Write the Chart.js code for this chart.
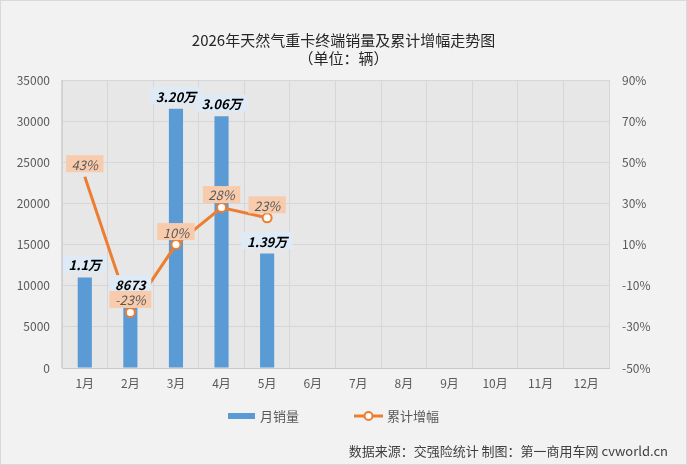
<!DOCTYPE html>
<html>
<head>
<meta charset="utf-8">
<script src="https://cdn.jsdelivr.net/npm/chart.js@4.4.0/dist/chart.umd.min.js"></script>
<style>
html, body { margin: 0; padding: 0; background: #f2f2f2; }
</style>
</head>
<body>
<canvas id="myChart" width="687" height="465"></canvas>
<script>
const months = ['1月', '2月', '3月', '4月', '5月', '6月', '7月', '8月', '9月', '10月', '11月', '12月'];
const sales = [11000, 8673, 31500, 30600, 13900];
const salesText = ['1.1万', '8673', '3.20万', '3.06万', '1.39万'];
const growth = [43, -23, 10, 28, 23];
const growthText = ['43%', '-23%', '10%', '28%', '23%'];

const FONT = '"Noto Sans CJK SC", "Noto Sans", sans-serif';
const blue = '#5b9bd5';
const orange = '#ed7d31';

// background, plot area and outer border
const bgPlugin = {
    id: 'bg',
    beforeDraw(chart) {
        const ctx = chart.ctx, a = chart.chartArea;
        ctx.save();
        ctx.fillStyle = '#f2f2f2';
        ctx.fillRect(0, 0, chart.width, chart.height);
        ctx.fillStyle = '#e7e7e7';
        ctx.fillRect(a.left, a.top, a.right - a.left, a.bottom - a.top);
        ctx.strokeStyle = '#d9d9d9';
        ctx.lineWidth = 1;
        ctx.strokeRect(0.5, 0.5, chart.width - 1, chart.height - 1);
        ctx.restore();
    }
};

function box(ctx, x, y, text, font, fill, color) {
    ctx.font = font;
    const w = ctx.measureText(text).width + 11;
    const h = 17;
    ctx.fillStyle = fill;
    ctx.fillRect(x - w / 2, y - h / 2, w, h);
    ctx.fillStyle = color;
    ctx.textAlign = 'center';
    ctx.textBaseline = 'middle';
    ctx.fillText(text, x, y + 1);
}

// data labels in boxes
const labelPlugin = {
    id: 'labels',
    afterDatasetsDraw(chart) {
        const ctx = chart.ctx;
        ctx.save();
        chart.getDatasetMeta(0).data.forEach((el, i) => {
            box(ctx, el.x, el.y - 13, salesText[i], 'italic bold 13px ' + FONT, '#deebf7', '#000');
        });
        chart.getDatasetMeta(1).data.forEach((el, i) => {
            box(ctx, el.x, el.y - 13, growthText[i], 'italic 13px ' + FONT, '#f8cbad', '#595959');
        });
        ctx.restore();
    }
};

// legend + source note
const legendPlugin = {
    id: 'legendNote',
    afterDraw(chart) {
        const ctx = chart.ctx;
        ctx.save();
        const y = 416;
        ctx.fillStyle = blue;
        ctx.fillRect(228, y - 3, 27, 6);
        ctx.font = '13px ' + FONT;
        ctx.fillStyle = '#595959';
        ctx.textBaseline = 'middle';
        ctx.textAlign = 'left';
        ctx.fillText('月销量', 260, y);

        ctx.strokeStyle = orange;
        ctx.lineWidth = 3;
        ctx.beginPath();
        ctx.moveTo(354, y);
        ctx.lineTo(383, y);
        ctx.stroke();
        ctx.beginPath();
        ctx.arc(368.5, y, 4, 0, Math.PI * 2);
        ctx.fillStyle = '#fff';
        ctx.fill();
        ctx.lineWidth = 2;
        ctx.stroke();
        ctx.fillStyle = '#595959';
        ctx.fillText('累计增幅', 387, y);

        ctx.fillStyle = '#404040';
        ctx.textAlign = 'right';
        ctx.fillText('数据来源：交强险统计 制图：第一商用车网 cvworld.cn', 668, 451);
        ctx.restore();
    }
};

const data = {
    labels: months,
    datasets: [{
        type: 'bar',
        label: '月销量',
        data: sales,
        backgroundColor: blue,
        yAxisID: 'y',
        order: 1,
        barPercentage: 0.31,
        categoryPercentage: 1
    }, {
        type: 'line',
        label: '累计增幅',
        data: growth,
        borderColor: orange,
        borderWidth: 3,
        pointRadius: [0, 4.5, 4.5, 4.5, 4.5],
        pointBackgroundColor: '#fff',
        pointBorderColor: orange,
        pointBorderWidth: 2,
        yAxisID: 'y1',
        order: 0,
        tension: 0
    }]
};

const config = {
    data: data,
    options: {
        responsive: false,
        animation: false,
        layout: { padding: { left: 0, right: 0, top: 0, bottom: 67 } },
        plugins: {
            legend: { display: false },
            tooltip: { enabled: false },
            title: {
                display: true,
                text: ['2026年天然气重卡终端销量及累计增幅走势图', '（单位：辆）'],
                color: '#262626',
                font: { family: FONT, size: 15, weight: 'normal', lineHeight: 1.2 },
                padding: { top: 31, bottom: 13 }
            }
        },
        scales: {
            x: {
                offset: true,
                grid: { offset: true, color: '#d6d6d6', drawTicks: false },
                border: { color: '#c8c8c8' },
                ticks: { color: '#595959', font: { family: FONT, size: 12 }, padding: 8 },
                afterFit(s) { s.height = 30; }
            },
            y: {
                position: 'left',
                min: 0,
                max: 35000,
                ticks: { stepSize: 5000, color: '#595959', font: { family: FONT, size: 12 }, padding: 12,
                    callback: v => String(v) },
                grid: { color: '#d6d6d6', drawTicks: false },
                border: { color: '#d0d0d0' },
                afterFit(s) { s.width = 62; }
            },
            y1: {
                position: 'right',
                min: -50,
                max: 90,
                ticks: { stepSize: 20, color: '#595959', font: { family: FONT, size: 12 }, padding: 13,
                    callback: v => v + '%' },
                grid: { display: false, drawTicks: false },
                border: { display: false },
                afterFit(s) { s.width = 78; }
            }
        }
    },
    plugins: [bgPlugin, labelPlugin, legendPlugin]
};

const myChart = new Chart(document.getElementById('myChart'), config);
</script>
</body>
</html>
